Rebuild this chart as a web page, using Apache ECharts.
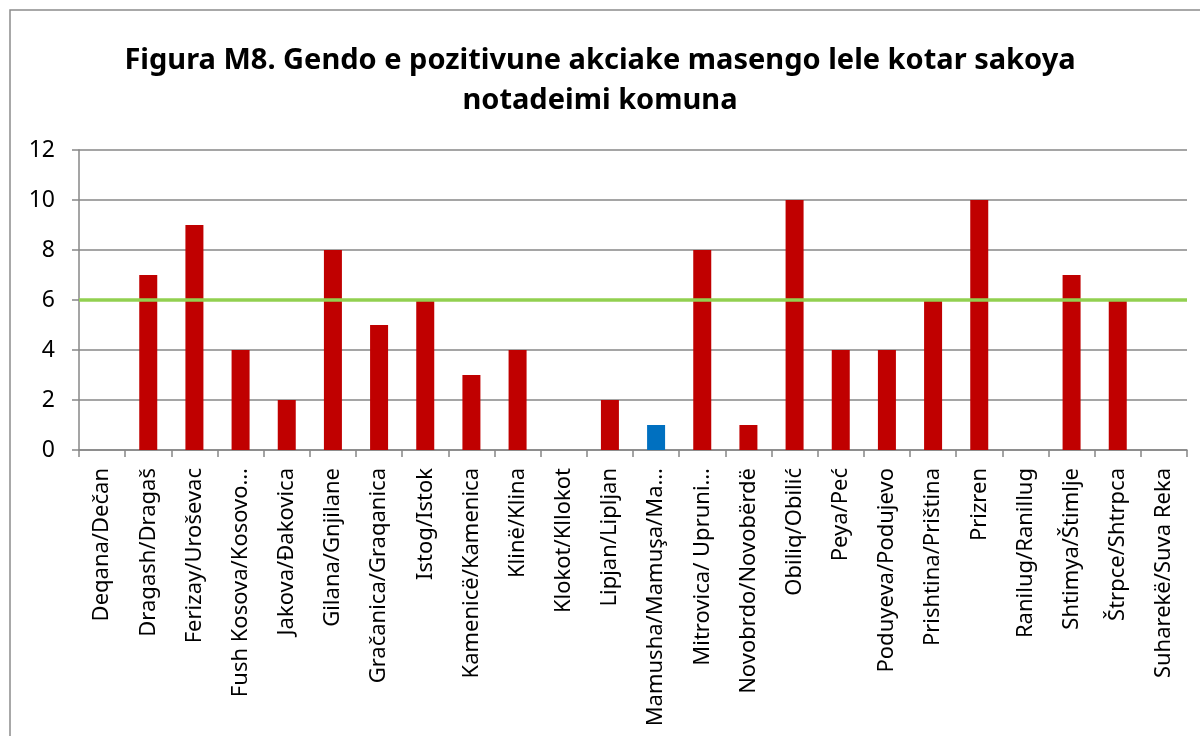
<!DOCTYPE html>
<html>
<head>
<meta charset="utf-8">
<script src="https://cdn.jsdelivr.net/npm/echarts@6/dist/echarts.min.js"></script>
<style>
html,body{margin:0;padding:0;background:#fff;}
#c{width:1200px;height:736px;}
</style>
</head>
<body>
<div id="c"></div>
<script>
const titleText = "Figura M8. Gendo e pozitivune akciake masengo lele kotar sakoya\nnotadeimi komuna";
const categories = [
  "Deqana/Dečan","Dragash/Dragaš","Ferizay/Uroševac","Fush Kosova/Kosovo…","Jakova/Đakovica",
  "Gilana/Gnjilane","Gračanica/Graqanica","Istog/Istok","Kamenicë/Kamenica","Klinë/Klina",
  "Klokot/Kllokot","Lipjan/Lipljan","Mamusha/Mamuşa/Ma…","Mitrovica/ Upruni…","Novobrdo/Novobërdë",
  "Obiliq/Obilić","Peya/Peć","Poduyeva/Podujevo","Prishtina/Priština","Prizren",
  "Ranilug/Ranillug","Shtimya/Štimlje","Štrpce/Shtrpca","Suharekë/Suva Reka"
];
const values = [0,7,9,4,2,8,5,6,3,4,0,2,1,8,1,10,4,4,6,10,0,7,6,0];
const highlighted = ["Mamusha/Mamuşa/Ma…"];
const thresholdValue = 6;
const yTicks = {min:0, max:12, interval:2};

const RED = "#C00000", BLUE = "#0070C0", GREEN = "#92D050", GRID = "#878787";

const chart = echarts.init(document.getElementById('c'), null, {renderer:'canvas'});
chart.setOption({
  animation:false,
  backgroundColor:'#fff',
  graphic:[{type:'rect', shape:{x:10,y:10,width:1210,height:760}, style:{fill:'none', stroke:'#8c8c8c', lineWidth:1.5}, silent:true}],
  title:{
    text:titleText, left:'center', top:36,
    textStyle:{fontFamily:'Noto Sans', fontWeight:'bold', fontSize:29, color:'#000', lineHeight:40}
  },
  grid:{left:79, right:13, top:150, bottom:286, containLabel:false},
  xAxis:{
    type:'category', data:categories,
    axisLine:{lineStyle:{color:GRID, width:1.5}},
    axisTick:{show:true, length:7, alignWithLabel:false, lineStyle:{color:GRID, width:1.5}},
    axisLabel:{rotate:90, interval:0, margin:18, color:'#000', fontFamily:'Noto Sans', fontSize:22}
  },
  yAxis:{
    type:'value', min:yTicks.min, max:yTicks.max, interval:yTicks.interval,
    axisLine:{show:true, lineStyle:{color:GRID, width:1.5}},
    axisTick:{show:true, length:7, lineStyle:{color:GRID, width:1.5}},
    splitLine:{lineStyle:{color:GRID, width:1.5}},
    axisLabel:{margin:24, color:'#000', fontFamily:'Noto Sans', fontSize:23}
  },
  series:[{
    type:'bar',
    barWidth:'39%',
    data:values.map((v,i)=>({value:v, itemStyle:{color: highlighted.includes(categories[i]) ? BLUE : RED}})),
    markLine:{
      silent:true, symbol:'none', label:{show:false},
      lineStyle:{color:GREEN, width:3.5, type:'solid'},
      data:[{yAxis:thresholdValue}]
    }
  }]
});
</script>
</body>
</html>
